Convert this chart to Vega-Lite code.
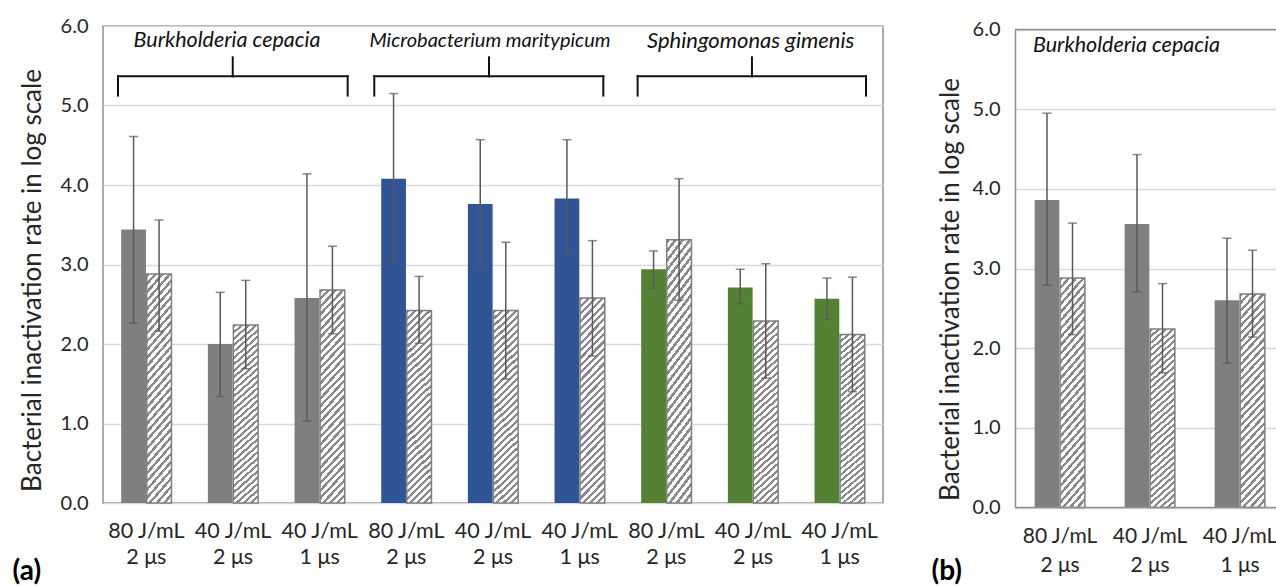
{
  "$schema": "https://vega.github.io/schema/vega-lite/v6.json",
  "background": "white",
  "padding": {"left": 11, "top": 15, "right": 0, "bottom": 0},
  "spacing": 47,
  "config": {
    "font": "Lato",
    "view": {"stroke": null},
    "axis": {"labelFont": "Lato", "titleFont": "Lato", "labelColor": "#262626", "titleColor": "#262626", "ticks": false, "titleFontWeight": "normal"}
  },
  "datasets": {
    "left": [
      {"grp": "1|80 J/mL|2 μs", "sp": "B", "treat": "solid", "v": 3.44, "lo": 2.26, "hi": 4.61},
      {"grp": "1|80 J/mL|2 μs", "sp": "B", "treat": "hatch", "v": 2.88, "lo": 2.16, "hi": 3.56},
      {"grp": "2|40 J/mL|2 μs", "sp": "B", "treat": "solid", "v": 2.00, "lo": 1.34, "hi": 2.65},
      {"grp": "2|40 J/mL|2 μs", "sp": "B", "treat": "hatch", "v": 2.24, "lo": 1.69, "hi": 2.80},
      {"grp": "3|40 J/mL|1 μs", "sp": "B", "treat": "solid", "v": 2.58, "lo": 1.03, "hi": 4.14},
      {"grp": "3|40 J/mL|1 μs", "sp": "B", "treat": "hatch", "v": 2.68, "lo": 2.13, "hi": 3.23},
      {"grp": "4|80 J/mL|2 μs", "sp": "M", "treat": "solid", "v": 4.08, "lo": 3.01, "hi": 5.15},
      {"grp": "4|80 J/mL|2 μs", "sp": "M", "treat": "hatch", "v": 2.42, "lo": 2.01, "hi": 2.85},
      {"grp": "5|40 J/mL|2 μs", "sp": "M", "treat": "solid", "v": 3.76, "lo": 2.97, "hi": 4.57},
      {"grp": "5|40 J/mL|2 μs", "sp": "M", "treat": "hatch", "v": 2.42, "lo": 1.56, "hi": 3.28},
      {"grp": "6|40 J/mL|1 μs", "sp": "M", "treat": "solid", "v": 3.83, "lo": 3.11, "hi": 4.57},
      {"grp": "6|40 J/mL|1 μs", "sp": "M", "treat": "hatch", "v": 2.58, "lo": 1.85, "hi": 3.30},
      {"grp": "7|80 J/mL|2 μs", "sp": "S", "treat": "solid", "v": 2.94, "lo": 2.70, "hi": 3.17},
      {"grp": "7|80 J/mL|2 μs", "sp": "S", "treat": "hatch", "v": 3.31, "lo": 2.55, "hi": 4.08},
      {"grp": "8|40 J/mL|2 μs", "sp": "S", "treat": "solid", "v": 2.71, "lo": 2.51, "hi": 2.94},
      {"grp": "8|40 J/mL|2 μs", "sp": "S", "treat": "hatch", "v": 2.29, "lo": 1.57, "hi": 3.01},
      {"grp": "9|40 J/mL|1 μs", "sp": "S", "treat": "solid", "v": 2.57, "lo": 2.31, "hi": 2.83},
      {"grp": "9|40 J/mL|1 μs", "sp": "S", "treat": "hatch", "v": 2.12, "lo": 1.40, "hi": 2.84}
    ],
    "right": [
      {"grp": "1|80 J/mL|2 μs", "sp": "B", "treat": "solid", "v": 3.86, "lo": 2.79, "hi": 4.95},
      {"grp": "1|80 J/mL|2 μs", "sp": "B", "treat": "hatch", "v": 2.88, "lo": 2.17, "hi": 3.57},
      {"grp": "2|40 J/mL|2 μs", "sp": "B", "treat": "solid", "v": 3.56, "lo": 2.71, "hi": 4.43},
      {"grp": "2|40 J/mL|2 μs", "sp": "B", "treat": "hatch", "v": 2.24, "lo": 1.69, "hi": 2.81},
      {"grp": "3|40 J/mL|1 μs", "sp": "B", "treat": "solid", "v": 2.60, "lo": 1.81, "hi": 3.38},
      {"grp": "3|40 J/mL|1 μs", "sp": "B", "treat": "hatch", "v": 2.68, "lo": 2.14, "hi": 3.23}
    ],
    "br": [
      {"x1": 0.173, "x2": 0.173, "y1": 5.125, "y2": 5.367},
      {"x1": 0.173, "x2": 2.823, "y1": 5.367, "y2": 5.367},
      {"x1": 2.823, "x2": 2.823, "y1": 5.367, "y2": 5.125},
      {"x1": 1.497, "x2": 1.497, "y1": 5.367, "y2": 5.606},
      {"x1": 3.13, "x2": 3.13, "y1": 5.125, "y2": 5.367},
      {"x1": 3.13, "x2": 5.773, "y1": 5.367, "y2": 5.367},
      {"x1": 5.773, "x2": 5.773, "y1": 5.367, "y2": 5.125},
      {"x1": 4.454, "x2": 4.454, "y1": 5.367, "y2": 5.606},
      {"x1": 6.169, "x2": 6.169, "y1": 5.125, "y2": 5.367},
      {"x1": 6.169, "x2": 8.804, "y1": 5.367, "y2": 5.367},
      {"x1": 8.804, "x2": 8.804, "y1": 5.367, "y2": 5.125},
      {"x1": 7.488, "x2": 7.488, "y1": 5.367, "y2": 5.606}
    ],
    "lab": [
      {"x": 1.431, "y": 5.814, "t": "Burkholderia cepacia"},
      {"x": 4.465, "y": 5.814, "t": "Microbacterium maritypicum"},
      {"x": 7.473, "y": 5.814, "t": "Sphingomonas gimenis"}
    ],
    "labr": [
      {"x": 0.2, "y": 5.79, "t": "Burkholderia cepacia"}
    ]
  },
  "hconcat": [
    {
      "width": 780,
      "height": 477,
      "view": {"stroke": "#8f8f8f", "strokeWidth": 1.5},
      "resolve": {"scale": {"x": "independent"}},
      "layer": [
        {
          "data": {"name": "left"},
          "encoding": {
            "x": {"field": "grp", "type": "nominal", "scale": {"paddingInner": 0.42, "paddingOuter": 0.21},
              "axis": {"labelExpr": "[split(datum.label,'|')[1], split(datum.label,'|')[2]]", "labelAngle": 0, "domain": false, "grid": false, "labelPadding": 17, "labelFontSize": 21.5, "labelLineHeight": 26, "labelOverlap": false,
                "title": "(a)", "titleX": -91, "titleY": 82, "titleAlign": "left", "titleBaseline": "bottom", "titleFontSize": 28, "titleFontWeight": "bold", "titleColor": "#000"}},
            "xOffset": {"field": "treat", "type": "nominal", "scale": {"domain": ["solid", "hatch"], "paddingInner": 0.03}},
            "y": {"field": "v", "type": "quantitative", "scale": {"domain": [0, 6], "nice": false},
              "axis": {"values": [0, 1, 2, 3, 4, 5, 6], "format": ".1f", "grid": true, "gridColor": "#d9d9d9", "gridWidth": 1.5, "domain": false, "labelPadding": 15, "labelFontSize": 20,
                "title": "Bacterial inactivation rate in log scale", "titleFontSize": 26, "titlePadding": 15, "titleY": 254}}
          },
          "layer": [
            {"transform": [{"filter": "datum.treat=='solid'"}], "mark": {"type": "bar"},
              "encoding": {"color": {"field": "sp", "type": "nominal", "scale": {"domain": ["B", "M", "S"], "range": ["#7f7f7f", "#2f5597", "#548235"]}, "legend": null}}},
            {"transform": [{"filter": "datum.treat=='hatch'"}],
              "mark": {"type": "bar", "stroke": "#7f7f7f", "strokeWidth": 1.5,
                "fill": {
                  "gradient": "linear", "x1": 0, "y1": 0, "x2": 0.1363, "y2": 1.1064,
                  "stops": [
                    {"offset": 0, "color": "#888"}, {"offset": 0.014, "color": "#888"}, {"offset": 0.014, "color": "#fff"}, {"offset": 0.032, "color": "#fff"},
                    {"offset": 0.032, "color": "#888"}, {"offset": 0.046, "color": "#888"}, {"offset": 0.046, "color": "#fff"}, {"offset": 0.064, "color": "#fff"},
                    {"offset": 0.064, "color": "#888"}, {"offset": 0.078, "color": "#888"}, {"offset": 0.078, "color": "#fff"}, {"offset": 0.096, "color": "#fff"},
                    {"offset": 0.096, "color": "#888"}, {"offset": 0.11, "color": "#888"}, {"offset": 0.11, "color": "#fff"}, {"offset": 0.128, "color": "#fff"},
                    {"offset": 0.128, "color": "#888"}, {"offset": 0.142, "color": "#888"}, {"offset": 0.142, "color": "#fff"}, {"offset": 0.16, "color": "#fff"},
                    {"offset": 0.16, "color": "#888"}, {"offset": 0.174, "color": "#888"}, {"offset": 0.174, "color": "#fff"}, {"offset": 0.192, "color": "#fff"},
                    {"offset": 0.192, "color": "#888"}, {"offset": 0.206, "color": "#888"}, {"offset": 0.206, "color": "#fff"}, {"offset": 0.224, "color": "#fff"},
                    {"offset": 0.224, "color": "#888"}, {"offset": 0.238, "color": "#888"}, {"offset": 0.238, "color": "#fff"}, {"offset": 0.256, "color": "#fff"},
                    {"offset": 0.256, "color": "#888"}, {"offset": 0.27, "color": "#888"}, {"offset": 0.27, "color": "#fff"}, {"offset": 0.288, "color": "#fff"},
                    {"offset": 0.288, "color": "#888"}, {"offset": 0.302, "color": "#888"}, {"offset": 0.302, "color": "#fff"}, {"offset": 0.32, "color": "#fff"},
                    {"offset": 0.32, "color": "#888"}, {"offset": 0.334, "color": "#888"}, {"offset": 0.334, "color": "#fff"}, {"offset": 0.352, "color": "#fff"},
                    {"offset": 0.352, "color": "#888"}, {"offset": 0.366, "color": "#888"}, {"offset": 0.366, "color": "#fff"}, {"offset": 0.384, "color": "#fff"},
                    {"offset": 0.384, "color": "#888"}, {"offset": 0.398, "color": "#888"}, {"offset": 0.398, "color": "#fff"}, {"offset": 0.416, "color": "#fff"},
                    {"offset": 0.416, "color": "#888"}, {"offset": 0.43, "color": "#888"}, {"offset": 0.43, "color": "#fff"}, {"offset": 0.448, "color": "#fff"},
                    {"offset": 0.448, "color": "#888"}, {"offset": 0.462, "color": "#888"}, {"offset": 0.462, "color": "#fff"}, {"offset": 0.48, "color": "#fff"},
                    {"offset": 0.48, "color": "#888"}, {"offset": 0.494, "color": "#888"}, {"offset": 0.494, "color": "#fff"}, {"offset": 0.512, "color": "#fff"},
                    {"offset": 0.512, "color": "#888"}, {"offset": 0.526, "color": "#888"}, {"offset": 0.526, "color": "#fff"}, {"offset": 0.544, "color": "#fff"},
                    {"offset": 0.544, "color": "#888"}, {"offset": 0.558, "color": "#888"}, {"offset": 0.558, "color": "#fff"}, {"offset": 0.576, "color": "#fff"},
                    {"offset": 0.576, "color": "#888"}, {"offset": 0.59, "color": "#888"}, {"offset": 0.59, "color": "#fff"}, {"offset": 0.608, "color": "#fff"},
                    {"offset": 0.608, "color": "#888"}, {"offset": 0.622, "color": "#888"}, {"offset": 0.622, "color": "#fff"}, {"offset": 0.64, "color": "#fff"},
                    {"offset": 0.64, "color": "#888"}, {"offset": 0.654, "color": "#888"}, {"offset": 0.654, "color": "#fff"}, {"offset": 0.672, "color": "#fff"},
                    {"offset": 0.672, "color": "#888"}, {"offset": 0.686, "color": "#888"}, {"offset": 0.686, "color": "#fff"}, {"offset": 0.704, "color": "#fff"},
                    {"offset": 0.704, "color": "#888"}, {"offset": 0.718, "color": "#888"}, {"offset": 0.718, "color": "#fff"}, {"offset": 0.736, "color": "#fff"},
                    {"offset": 0.736, "color": "#888"}, {"offset": 0.75, "color": "#888"}, {"offset": 0.75, "color": "#fff"}, {"offset": 0.768, "color": "#fff"},
                    {"offset": 0.768, "color": "#888"}, {"offset": 0.782, "color": "#888"}, {"offset": 0.782, "color": "#fff"}, {"offset": 0.8, "color": "#fff"},
                    {"offset": 0.8, "color": "#888"}, {"offset": 0.814, "color": "#888"}, {"offset": 0.814, "color": "#fff"}, {"offset": 0.832, "color": "#fff"},
                    {"offset": 0.832, "color": "#888"}, {"offset": 0.846, "color": "#888"}, {"offset": 0.846, "color": "#fff"}, {"offset": 0.864, "color": "#fff"},
                    {"offset": 0.864, "color": "#888"}, {"offset": 0.878, "color": "#888"}, {"offset": 0.878, "color": "#fff"}, {"offset": 0.896, "color": "#fff"},
                    {"offset": 0.896, "color": "#888"}, {"offset": 0.91, "color": "#888"}, {"offset": 0.91, "color": "#fff"}, {"offset": 0.928, "color": "#fff"},
                    {"offset": 0.928, "color": "#888"}, {"offset": 0.942, "color": "#888"}, {"offset": 0.942, "color": "#fff"}, {"offset": 0.96, "color": "#fff"},
                    {"offset": 0.96, "color": "#888"}, {"offset": 0.974, "color": "#888"}, {"offset": 0.974, "color": "#fff"}, {"offset": 0.992, "color": "#fff"},
                    {"offset": 0.992, "color": "#888"}, {"offset": 1, "color": "#888"}
                  ]
                }}},
            {"mark": {"type": "rule", "color": "#595959", "strokeWidth": 1.5},
              "encoding": {"y": {"field": "lo", "type": "quantitative", "title": "Bacterial inactivation rate in log scale"}, "y2": {"field": "hi"}}},
            {"mark": {"type": "tick", "color": "#595959", "thickness": 1.5, "size": 9},
              "encoding": {"y": {"field": "lo", "type": "quantitative", "title": "Bacterial inactivation rate in log scale"}}},
            {"mark": {"type": "tick", "color": "#595959", "thickness": 1.5, "size": 9},
              "encoding": {"y": {"field": "hi", "type": "quantitative", "title": "Bacterial inactivation rate in log scale"}}}
          ]
        },
        {
          "data": {"name": "br"},
          "mark": {"type": "rule", "color": "#111", "strokeWidth": 2, "strokeCap": "square"},
          "encoding": {
            "x": {"field": "x1", "type": "quantitative", "scale": {"domain": [0, 9], "nice": false, "zero": false}, "axis": null},
            "x2": {"field": "x2"},
            "y": {"field": "y1", "type": "quantitative", "title": "Bacterial inactivation rate in log scale"},
            "y2": {"field": "y2"}
          }
        },
        {
          "data": {"name": "lab"},
          "mark": {"type": "text", "fontStyle": "italic", "align": "center", "baseline": "middle", "color": "#111"},
          "encoding": {
            "x": {"field": "x", "type": "quantitative", "scale": {"domain": [0, 9], "nice": false, "zero": false}, "axis": null},
            "y": {"field": "y", "type": "quantitative", "title": "Bacterial inactivation rate in log scale"},
            "text": {"field": "t"},
            "size": {"condition": [{"test": "datum.t=='Microbacterium maritypicum'", "value": 20}, {"test": "datum.t=='Sphingomonas gimenis'", "value": 22}], "value": 21.5}
          }
        }
      ]
    },
    {
      "width": 262,
      "height": 481.5,
      "resolve": {"scale": {"x": "independent"}},
      "layer": [
        {
          "data": {"name": "right"},
          "encoding": {
            "x": {"field": "grp", "type": "nominal", "scale": {"paddingInner": 0.436, "paddingOuter": 0.218, "range": [0, 270]},
              "axis": {"labelExpr": "[split(datum.label,'|')[1], split(datum.label,'|')[2]]", "labelAngle": 0, "domain": false, "grid": false, "labelPadding": 18, "labelFontSize": 21, "labelLineHeight": 29, "labelOverlap": false,
                "title": "(b)", "titleX": -84, "titleY": 78, "titleAlign": "left", "titleBaseline": "bottom", "titleFontSize": 28, "titleFontWeight": "bold", "titleColor": "#000"}},
            "xOffset": {"field": "treat", "type": "nominal", "scale": {"domain": ["solid", "hatch"], "paddingInner": 0.03}},
            "y": {"field": "v", "type": "quantitative", "scale": {"domain": [0, 6], "nice": false, "range": [481.5, 3.5]},
              "axis": {"values": [0, 1, 2, 3, 4, 5, 6], "format": ".1f", "grid": true, "gridColor": "#d9d9d9", "gridWidth": 1.5, "domain": true, "domainColor": "#8f8f8f", "domainWidth": 1.5, "labelPadding": 15, "labelFontSize": 20,
                "title": "Bacterial inactivation rate in log scale", "titleFontSize": 26, "titlePadding": 9, "titleY": 263}}
          },
          "layer": [
            {"mark": {"type": "bar", "fill": "#7f7f7f"}, "transform": [{"filter": "datum.treat=='solid'"}]},
            {"transform": [{"filter": "datum.treat=='hatch'"}],
              "mark": {"type": "bar", "stroke": "#7f7f7f", "strokeWidth": 1.5,
                "fill": {
                  "gradient": "linear", "x1": 0, "y1": 0, "x2": 0.1363, "y2": 1.1064,
                  "stops": [
                    {"offset": 0, "color": "#888"}, {"offset": 0.014, "color": "#888"}, {"offset": 0.014, "color": "#fff"}, {"offset": 0.032, "color": "#fff"},
                    {"offset": 0.032, "color": "#888"}, {"offset": 0.046, "color": "#888"}, {"offset": 0.046, "color": "#fff"}, {"offset": 0.064, "color": "#fff"},
                    {"offset": 0.064, "color": "#888"}, {"offset": 0.078, "color": "#888"}, {"offset": 0.078, "color": "#fff"}, {"offset": 0.096, "color": "#fff"},
                    {"offset": 0.096, "color": "#888"}, {"offset": 0.11, "color": "#888"}, {"offset": 0.11, "color": "#fff"}, {"offset": 0.128, "color": "#fff"},
                    {"offset": 0.128, "color": "#888"}, {"offset": 0.142, "color": "#888"}, {"offset": 0.142, "color": "#fff"}, {"offset": 0.16, "color": "#fff"},
                    {"offset": 0.16, "color": "#888"}, {"offset": 0.174, "color": "#888"}, {"offset": 0.174, "color": "#fff"}, {"offset": 0.192, "color": "#fff"},
                    {"offset": 0.192, "color": "#888"}, {"offset": 0.206, "color": "#888"}, {"offset": 0.206, "color": "#fff"}, {"offset": 0.224, "color": "#fff"},
                    {"offset": 0.224, "color": "#888"}, {"offset": 0.238, "color": "#888"}, {"offset": 0.238, "color": "#fff"}, {"offset": 0.256, "color": "#fff"},
                    {"offset": 0.256, "color": "#888"}, {"offset": 0.27, "color": "#888"}, {"offset": 0.27, "color": "#fff"}, {"offset": 0.288, "color": "#fff"},
                    {"offset": 0.288, "color": "#888"}, {"offset": 0.302, "color": "#888"}, {"offset": 0.302, "color": "#fff"}, {"offset": 0.32, "color": "#fff"},
                    {"offset": 0.32, "color": "#888"}, {"offset": 0.334, "color": "#888"}, {"offset": 0.334, "color": "#fff"}, {"offset": 0.352, "color": "#fff"},
                    {"offset": 0.352, "color": "#888"}, {"offset": 0.366, "color": "#888"}, {"offset": 0.366, "color": "#fff"}, {"offset": 0.384, "color": "#fff"},
                    {"offset": 0.384, "color": "#888"}, {"offset": 0.398, "color": "#888"}, {"offset": 0.398, "color": "#fff"}, {"offset": 0.416, "color": "#fff"},
                    {"offset": 0.416, "color": "#888"}, {"offset": 0.43, "color": "#888"}, {"offset": 0.43, "color": "#fff"}, {"offset": 0.448, "color": "#fff"},
                    {"offset": 0.448, "color": "#888"}, {"offset": 0.462, "color": "#888"}, {"offset": 0.462, "color": "#fff"}, {"offset": 0.48, "color": "#fff"},
                    {"offset": 0.48, "color": "#888"}, {"offset": 0.494, "color": "#888"}, {"offset": 0.494, "color": "#fff"}, {"offset": 0.512, "color": "#fff"},
                    {"offset": 0.512, "color": "#888"}, {"offset": 0.526, "color": "#888"}, {"offset": 0.526, "color": "#fff"}, {"offset": 0.544, "color": "#fff"},
                    {"offset": 0.544, "color": "#888"}, {"offset": 0.558, "color": "#888"}, {"offset": 0.558, "color": "#fff"}, {"offset": 0.576, "color": "#fff"},
                    {"offset": 0.576, "color": "#888"}, {"offset": 0.59, "color": "#888"}, {"offset": 0.59, "color": "#fff"}, {"offset": 0.608, "color": "#fff"},
                    {"offset": 0.608, "color": "#888"}, {"offset": 0.622, "color": "#888"}, {"offset": 0.622, "color": "#fff"}, {"offset": 0.64, "color": "#fff"},
                    {"offset": 0.64, "color": "#888"}, {"offset": 0.654, "color": "#888"}, {"offset": 0.654, "color": "#fff"}, {"offset": 0.672, "color": "#fff"},
                    {"offset": 0.672, "color": "#888"}, {"offset": 0.686, "color": "#888"}, {"offset": 0.686, "color": "#fff"}, {"offset": 0.704, "color": "#fff"},
                    {"offset": 0.704, "color": "#888"}, {"offset": 0.718, "color": "#888"}, {"offset": 0.718, "color": "#fff"}, {"offset": 0.736, "color": "#fff"},
                    {"offset": 0.736, "color": "#888"}, {"offset": 0.75, "color": "#888"}, {"offset": 0.75, "color": "#fff"}, {"offset": 0.768, "color": "#fff"},
                    {"offset": 0.768, "color": "#888"}, {"offset": 0.782, "color": "#888"}, {"offset": 0.782, "color": "#fff"}, {"offset": 0.8, "color": "#fff"},
                    {"offset": 0.8, "color": "#888"}, {"offset": 0.814, "color": "#888"}, {"offset": 0.814, "color": "#fff"}, {"offset": 0.832, "color": "#fff"},
                    {"offset": 0.832, "color": "#888"}, {"offset": 0.846, "color": "#888"}, {"offset": 0.846, "color": "#fff"}, {"offset": 0.864, "color": "#fff"},
                    {"offset": 0.864, "color": "#888"}, {"offset": 0.878, "color": "#888"}, {"offset": 0.878, "color": "#fff"}, {"offset": 0.896, "color": "#fff"},
                    {"offset": 0.896, "color": "#888"}, {"offset": 0.91, "color": "#888"}, {"offset": 0.91, "color": "#fff"}, {"offset": 0.928, "color": "#fff"},
                    {"offset": 0.928, "color": "#888"}, {"offset": 0.942, "color": "#888"}, {"offset": 0.942, "color": "#fff"}, {"offset": 0.96, "color": "#fff"},
                    {"offset": 0.96, "color": "#888"}, {"offset": 0.974, "color": "#888"}, {"offset": 0.974, "color": "#fff"}, {"offset": 0.992, "color": "#fff"},
                    {"offset": 0.992, "color": "#888"}, {"offset": 1, "color": "#888"}
                  ]
                }}},
            {"mark": {"type": "rule", "color": "#595959", "strokeWidth": 1.5},
              "encoding": {"y": {"field": "lo", "type": "quantitative", "title": "Bacterial inactivation rate in log scale"}, "y2": {"field": "hi"}}},
            {"mark": {"type": "tick", "color": "#595959", "thickness": 1.5, "size": 9},
              "encoding": {"y": {"field": "lo", "type": "quantitative", "title": "Bacterial inactivation rate in log scale"}}},
            {"mark": {"type": "tick", "color": "#595959", "thickness": 1.5, "size": 9},
              "encoding": {"y": {"field": "hi", "type": "quantitative", "title": "Bacterial inactivation rate in log scale"}}}
          ]
        },
        {
          "data": {"values": [{"yv": 6}, {"yv": 0}]},
          "mark": {"type": "rule", "color": "#8f8f8f", "strokeWidth": 1.5},
          "encoding": {"y": {"field": "yv", "type": "quantitative", "title": "Bacterial inactivation rate in log scale"}}
        },
        {
          "data": {"name": "labr"},
          "mark": {"type": "text", "fontStyle": "italic", "align": "left", "baseline": "middle", "color": "#111", "fontSize": 21.5},
          "encoding": {
            "x": {"field": "x", "type": "quantitative", "scale": {"domain": [0, 3], "nice": false, "zero": false, "range": [0, 270]}, "axis": null},
            "y": {"field": "y", "type": "quantitative", "title": "Bacterial inactivation rate in log scale"},
            "text": {"field": "t"}
          }
        }
      ]
    }
  ]
}
